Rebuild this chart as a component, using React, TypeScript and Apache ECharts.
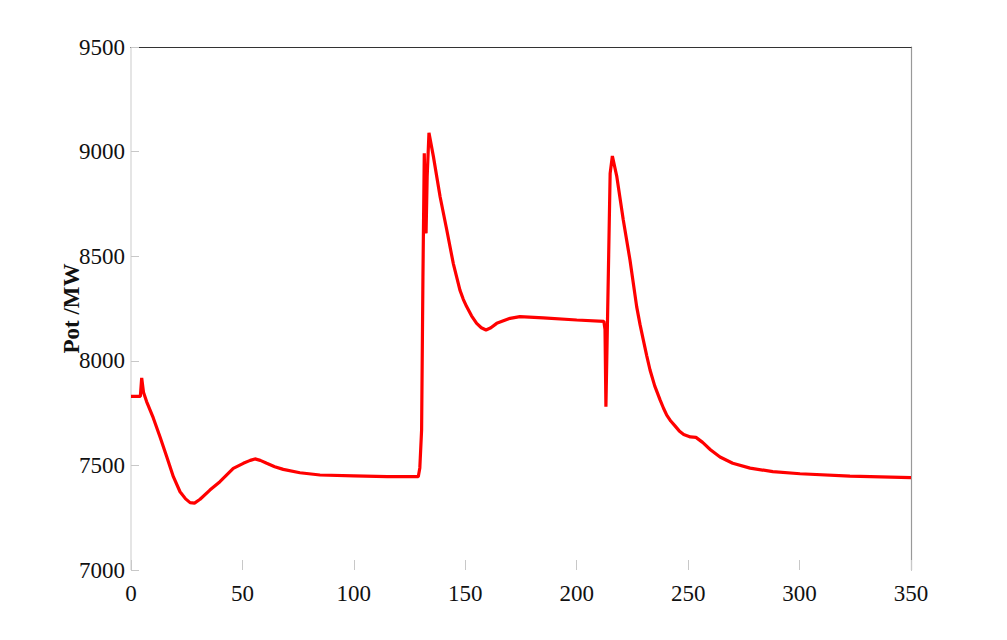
import React, { useEffect, useRef } from "react";
import * as echarts from "echarts";

const timeValues: number[] = [
  0, 4.2, 4.8, 5.6, 7.0, 10.0, 13.0, 16.0, 19.0, 22.0, 24.5, 26.5, 28.5, 31.0, 35.4, 39.9, 45.9, 50.4, 53.5, 55.6, 58.0, 60.9, 64.5, 68.3, 75.8, 84.8, 100, 115, 128.9,
  129.6, 130.4, 131.0, 131.6, 132.0, 132.4, 132.9, 133.7, 135.7, 138.7, 141.7, 144.6, 146.2, 147.6, 149.1, 150.6, 152.8, 155.1, 157.2, 159.3, 161.5, 164.1, 170.1, 174.5, 185, 200, 212.2,
  212.7, 213.1, 214.2, 215.0, 216.0, 218.0, 220.9, 223.9, 226.9, 228.4, 229.9, 231.4, 232.9, 235.0, 237.4, 239.0, 240.4, 242.2, 244.0, 246.0, 248.0, 251.0, 253.5, 256.5, 260.0, 264.3, 270.0, 277.8, 288.0, 300.2, 322.6, 350,
];

const powerValues: number[] = [
  7830, 7830, 7918, 7850, 7805, 7727, 7637, 7542, 7446, 7374, 7340, 7322, 7320, 7338, 7382, 7422, 7486, 7510, 7524, 7531, 7524, 7510, 7494, 7481, 7465, 7454, 7450, 7446, 7446,
  7488, 7669, 8402, 8992, 8750, 8609, 8880, 9090, 8976, 8784, 8625, 8466, 8398, 8338, 8294, 8259, 8215, 8179, 8158, 8147, 8158, 8179, 8203, 8211, 8205, 8195, 8188,
  8150, 7781, 8418, 8896, 8979, 8880, 8673, 8482, 8259, 8174, 8099, 8025, 7956, 7880, 7813, 7772, 7740, 7712, 7690, 7665, 7648, 7636, 7634, 7610, 7575, 7540, 7510, 7487, 7470, 7460, 7449, 7442,
];

const xTicks = { min: 0, max: 350, interval: 50 };
const yTicks = { min: 7000, max: 9500, interval: 500 };

export default function App() {
  const ref = useRef<HTMLDivElement>(null);
  useEffect(() => {
    if (!ref.current) return;
    const chart = echarts.init(ref.current, null, { renderer: "svg" });
    const data = timeValues.map((t, i) => [t, powerValues[i]]);
    const labelFont = { fontFamily: "Liberation Serif", fontSize: 23, color: "#111" };
    chart.setOption({
      animation: false,
      backgroundColor: "#ffffff",
      grid: { left: 131, right: 96, top: 47, bottom: 70, containLabel: false },
      xAxis: [
        {
          type: "value",
          min: xTicks.min,
          max: xTicks.max,
          interval: xTicks.interval,
          axisLine: { show: false },
          axisTick: { show: true, inside: true, length: 10, lineStyle: { color: "#c8c8c8", width: 1 } },
          axisLabel: { ...labelFont, margin: 12, formatter: (v: number) => String(v) },
          splitLine: { show: false },
        },
        {
          type: "value",
          position: "top",
          min: xTicks.min,
          max: xTicks.max,
          interval: xTicks.interval,
          axisLine: { show: true, onZero: false, lineStyle: { color: "#333", width: 1.2 } },
          axisTick: { show: false },
          axisLabel: { show: false },
          splitLine: { show: false },
        },
      ],
      yAxis: [
        {
          type: "value",
          min: yTicks.min,
          max: yTicks.max,
          interval: yTicks.interval,
          name: "Pot /MW",
          nameLocation: "middle",
          nameGap: 48,
          nameMoveOverlap: false,
          nameTextStyle: { fontFamily: "Liberation Serif", fontSize: 23, fontWeight: "bold", color: "#111" },
          axisLine: { show: false },
          axisTick: { show: true, inside: true, length: 8, lineStyle: { color: "#c8c8c8", width: 1 } },
          axisLabel: { ...labelFont, margin: 6, formatter: (v: number) => String(v) },
          splitLine: { show: false },
        },
        {
          type: "value",
          position: "right",
          min: yTicks.min,
          max: yTicks.max,
          interval: yTicks.interval,
          axisLine: { show: true, onZero: false, lineStyle: { color: "#999", width: 1.2 } },
          axisTick: { show: false },
          axisLabel: { show: false },
          splitLine: { show: false },
        },
      ],
      graphic: [
        {
          type: "line",
          shape: { x1: 131, y1: 47, x2: 131, y2: 570 },
          style: { stroke: "#dddddd", lineWidth: 1.5 },
          silent: true,
        },
      ],
      series: [
        {
          type: "line",
          data,
          xAxisIndex: 0,
          yAxisIndex: 0,
          showSymbol: false,
          symbol: "none",
          smooth: false,
          lineStyle: { color: "#ff0000", width: 3.2 },
        },
      ],
    });
    return () => chart.dispose();
  }, []);
  return (
    <div
      ref={ref}
      style={{ position: "fixed", left: 0, top: 0, width: 1007, height: 640, background: "#fff" }}
    />
  );
}
